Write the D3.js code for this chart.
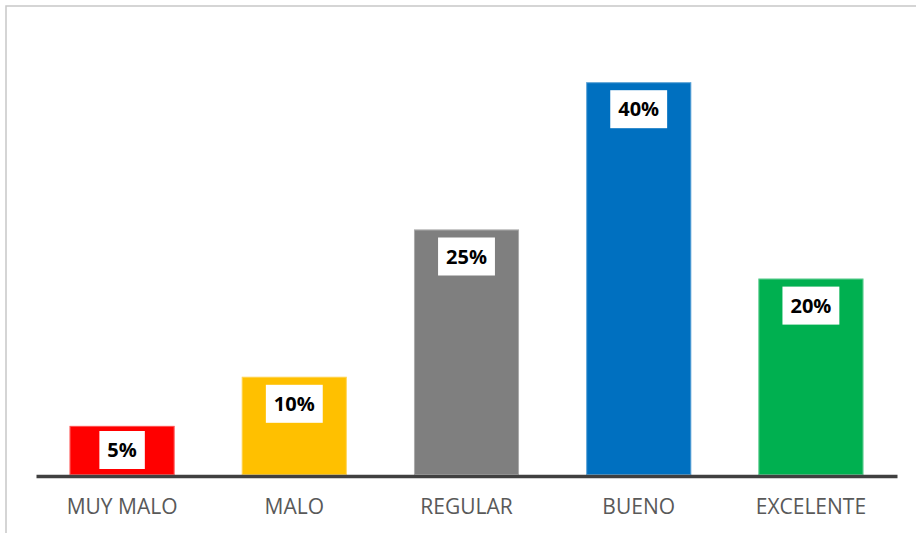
<!DOCTYPE html>
<html>
<head>
<meta charset="utf-8">
<script src="https://cdn.jsdelivr.net/npm/d3@7"></script>
<style>
  body { margin: 0; background: #fff; }
  svg { display: block; }
</style>
</head>
<body>
<div id="chart"></div>
<script>
// data
var categories = ["MUY MALO", "MALO", "REGULAR", "BUENO", "EXCELENTE"];
var values = [5, 10, 25, 40, 20];
var colors = ["#ff0000", "#ffc000", "#7f7f7f", "#0070c0", "#00b050"];

var width = 916, height = 533;
var baseline = 475;

var svg = d3.select("#chart").append("svg")
    .attr("width", width)
    .attr("height", height);

// chart border (cropped at right and bottom)
svg.append("rect")
    .attr("x", 6)
    .attr("y", 6)
    .attr("width", 940)
    .attr("height", 560)
    .attr("fill", "#fff")
    .attr("stroke", "#c8c8c8")
    .attr("stroke-width", 1.5);

var x = d3.scaleBand()
    .domain(categories)
    .range([36, 897])
    .paddingInner(0.39)
    .paddingOuter(0.195);

var y = d3.scaleLinear()
    .domain([0, 45])
    .range([baseline, baseline - 45 * 9.82]);

var data = categories.map(function(c, i) {
    return { cat: c, value: values[i], color: colors[i] };
});

// bars
svg.selectAll(".bar")
    .data(data)
  .enter().append("rect")
    .attr("class", "bar")
    .attr("x", function(d) { return x(d.cat); })
    .attr("y", function(d) { return y(d.value); })
    .attr("width", x.bandwidth())
    .attr("height", function(d) { return y(0) - y(d.value); })
    .attr("fill", function(d) { return d.color; });

// light edge on the bars
svg.selectAll(".edge")
    .data(data)
  .enter().append("rect")
    .attr("class", "edge")
    .attr("x", function(d) { return x(d.cat) + 0.5; })
    .attr("y", function(d) { return y(d.value) + 0.5; })
    .attr("width", x.bandwidth() - 1)
    .attr("height", function(d) { return y(0) - y(d.value) - 1; })
    .attr("fill", "none")
    .attr("stroke", "#fff")
    .attr("stroke-opacity", 0.35)
    .attr("stroke-width", 1);

// x axis
var axis = svg.append("g")
    .attr("transform", "translate(0," + (baseline + 1) + ")")
    .call(d3.axisBottom(x).tickSize(0).tickSizeOuter(0));

axis.select(".domain")
    .attr("stroke", "#404040")
    .attr("stroke-width", 3.5);

axis.selectAll("text")
    .attr("y", 38)
    .attr("dy", 0)
    .attr("fill", "#595959")
    .style("font-family", "'Open Sans', sans-serif")
    .style("font-size", "21px");

// data labels in white boxes
var labels = svg.selectAll(".lbl")
    .data(data)
  .enter().append("g")
    .attr("class", "lbl");

labels.each(function(d) {
    var g = d3.select(this);
    var cx = x(d.cat) + x.bandwidth() / 2;
    var txt = g.append("text")
        .attr("x", cx)
        .attr("text-anchor", "middle")
        .style("font-family", "'Open Sans', sans-serif")
        .style("font-weight", "bold")
        .style("font-size", "20px")
        .attr("fill", "#000")
        .text(d.value + "%");
    var w = txt.node().getComputedTextLength() + 16;
    var h = 38;
    var top = y(d.value) + 8;
    if (top + h > baseline - 6) top = baseline - 6 - h;
    g.insert("rect", "text")
        .attr("x", cx - w / 2)
        .attr("y", top)
        .attr("width", w)
        .attr("height", h)
        .attr("fill", "#fff");
    txt.attr("y", top + h / 2).attr("dy", "0.36em");
});
</script>
</body>
</html>
